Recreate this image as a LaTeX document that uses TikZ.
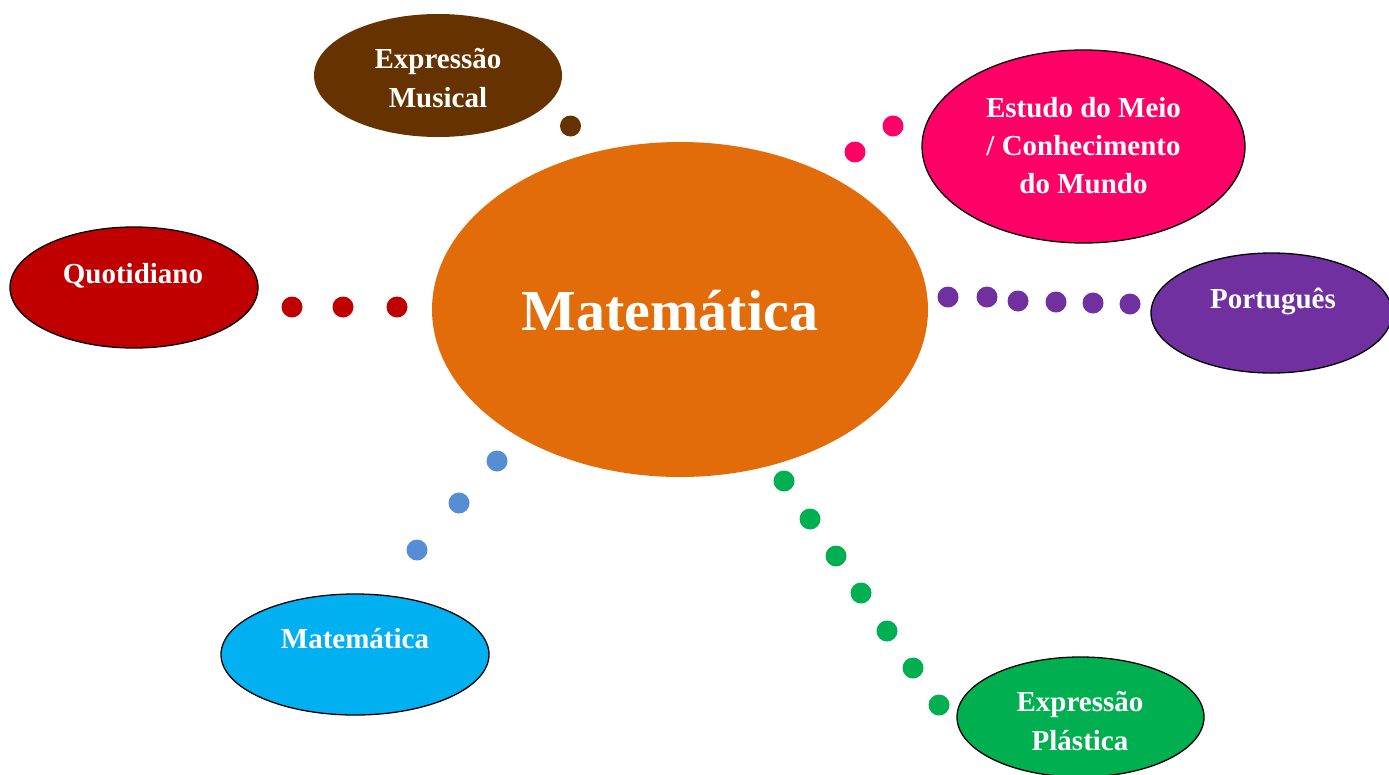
\documentclass[tikz,border=0pt]{standalone}
\usepackage{fontspec}
\setmainfont{Liberation Serif}
\usetikzlibrary{shapes.geometric}
\definecolor{corange}{HTML}{E26C0A}
\definecolor{cbrown}{HTML}{663300}
\definecolor{cpink}{HTML}{FF0066}
\definecolor{cred}{HTML}{C00000}
\definecolor{cpurple}{HTML}{7030A0}
\definecolor{cblue}{HTML}{00B0F0}
\definecolor{cgreen}{HTML}{00B050}
\definecolor{cbluedot}{HTML}{558ED5}
\tikzset{
  bubble/.style={ellipse, inner sep=0pt, draw=black, line width=1.3pt},
  lbl/.style={text=white, font=\bfseries\fontsize{29}{38}\selectfont, anchor=base, inner sep=0pt},
  bigl/.style={text=white, font=\bfseries\fontsize{58}{64}\selectfont, anchor=base, inner sep=0pt},
  dotc/.style={circle, inner sep=0pt, minimum size=21pt, draw=none}
}
\begin{document}
\begin{tikzpicture}[x=1pt,y=-1pt]
\useasboundingbox (0,0) rectangle (1389,774);
\clip (0,0) rectangle (1389,774);
% central
\node[ellipse, inner sep=0pt, fill=corange, minimum width=496pt, minimum height=335pt] (centro) at (680,309.5) {};
\node[bigl] (tcentro) at (670,330) {Matemática};
% Expressao Musical
\node[ellipse, inner sep=0pt, fill=cbrown, minimum width=248pt, minimum height=123pt] (musical) at (438,75.5) {};
\node[lbl] (tmus1) at (438,68) {Expressão};
\node[lbl] (tmus2) at (438,107) {Musical};
% Estudo do Meio
\node[bubble, fill=cpink, minimum width=323pt, minimum height=193pt] (meio) at (1083.5,146.5) {};
\node[lbl] (tmeio1) at (1083.5,117) {Estudo do Meio};
\node[lbl] (tmeio2) at (1083.5,155) {/ Conhecimento};
\node[lbl] (tmeio3) at (1083.5,193) {do Mundo};
% Quotidiano
\node[bubble, fill=cred, minimum width=248pt, minimum height=121pt] (quot) at (134,287.5) {};
\node[lbl] (tquot) at (133,283) {Quotidiano};
% Portugues
\node[bubble, fill=cpurple, minimum width=241pt, minimum height=120pt] (port) at (1271.5,313) {};
\node[lbl] (tport) at (1273,308) {Português};
% Matematica small
\node[bubble, fill=cblue, minimum width=268pt, minimum height=121pt] (matp) at (355,654.5) {};
\node[lbl] (tmatp) at (355,648) {Matemática};
% Expressao Plastica
\node[bubble, fill=cgreen, minimum width=247pt, minimum height=120pt] (plast) at (1080.5,717) {};
\node[lbl] (tpl1) at (1080,711) {Expressão};
\node[lbl] (tpl2) at (1080,750) {Plástica};
% dots
\node[dotc, fill=cbrown] (db1) at (570.5,126) {};
\node[dotc, fill=cpink] (dp1) at (855,152) {};
\node[dotc, fill=cpink] (dp2) at (893,126) {};
\node[dotc, fill=cred] (dr1) at (292,307) {};
\node[dotc, fill=cred] (dr2) at (343,307) {};
\node[dotc, fill=cred] (dr3) at (397,307) {};
\foreach \x/\y [count=\i] in {948/297,987/297,1018/301,1056/302,1093/303,1130/304}
  \node[dotc, fill=cpurple] (du\i) at (\x,\y) {};
\foreach \x/\y [count=\i] in {497/461,459/503,417/550}
  \node[dotc, fill=cbluedot] (dl\i) at (\x,\y) {};
\foreach \x/\y [count=\i] in {784/481,810/519,836/556,861/593,887/631,913/668,939/705}
  \node[dotc, fill=cgreen] (dg\i) at (\x,\y) {};
\end{tikzpicture}
\end{document}
